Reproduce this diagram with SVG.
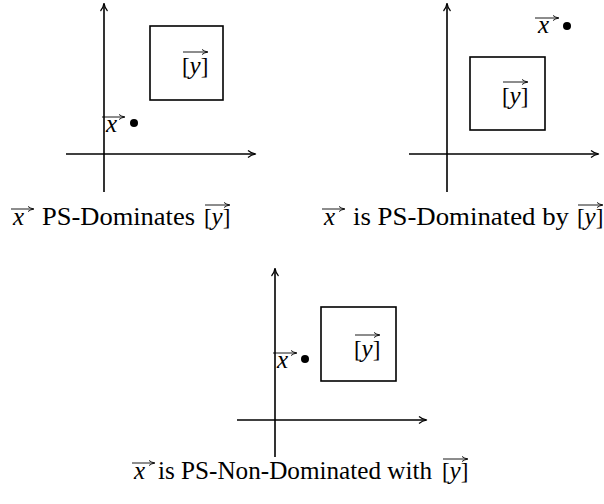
<svg xmlns="http://www.w3.org/2000/svg" width="604" height="504" viewBox="0 0 604 504">
<defs>
<marker id="ah" markerWidth="10" markerHeight="10" refX="8" refY="5" orient="auto" markerUnits="userSpaceOnUse">
<path d="M1,1.5 Q4,4.2 9,5 Q4,5.8 1,8.5" fill="none" stroke="#000" stroke-width="1.2"/>
</marker>
<marker id="vh" markerWidth="8" markerHeight="8" refX="6" refY="4" orient="auto" markerUnits="userSpaceOnUse">
<path d="M1,1.5 Q3.5,3.5 7,4 Q3.5,4.5 1,6.5" fill="none" stroke="#000" stroke-width="0.9"/>
</marker>
<style>
.ax{stroke:#000;stroke-width:1.6;fill:none;marker-end:url(#ah)}
.box{stroke:#000;stroke-width:1.6;fill:none}
.t{font-family:"Liberation Serif","Times New Roman",serif;font-size:25px;fill:#000}
.br{font-family:"Liberation Serif","Times New Roman",serif;font-size:23px;fill:#000}
.i{font-style:italic}
.va{stroke:#000;stroke-width:0.9;fill:none;marker-end:url(#vh)}
</style>
</defs>
<g id="connectors">
<line class="ax" x1="104" y1="192" x2="104" y2="4"/>
<line class="ax" x1="66" y1="154" x2="255" y2="154"/>
<line class="ax" x1="447" y1="192" x2="447" y2="4"/>
<line class="ax" x1="409" y1="154" x2="598" y2="154"/>
<line class="ax" x1="275" y1="457" x2="275" y2="269"/>
<line class="ax" x1="237" y1="420" x2="426" y2="420"/>
</g>
<g id="panel1">
<rect class="box" x="150" y="26" width="73" height="74"/>
<text class="br" x="182" y="74">[</text><text class="t i" x="189.6" y="74">y</text><text class="br" x="200.8" y="74">]</text>
<line class="va" x1="183" y1="52" x2="207" y2="52"/>
<text class="t i" x="106" y="132">x</text>
<line class="va" x1="102" y1="117" x2="124" y2="117"/>
<circle cx="134" cy="123" r="4"/>
<text class="t i" x="13" y="225">x</text>
<line class="va" x1="11" y1="209" x2="33" y2="209"/>
<text class="t" x="42" y="225" textLength="153" lengthAdjust="spacingAndGlyphs">PS-Dominates</text>
<text class="br" x="204" y="225">[</text><text class="t i" x="211.6" y="225">y</text><text class="br" x="222.8" y="225">]</text>
<line class="va" x1="205" y1="205" x2="229" y2="205"/>
</g>
<g id="panel2">
<rect class="box" x="470" y="57" width="75" height="73"/>
<text class="br" x="502" y="104">[</text><text class="t i" x="509.6" y="104">y</text><text class="br" x="520.8" y="104">]</text>
<line class="va" x1="503" y1="82" x2="527" y2="82"/>
<text class="t i" x="538" y="33">x</text>
<line class="va" x1="535" y1="18" x2="558" y2="18"/>
<circle cx="567" cy="26" r="4"/>
<text class="t i" x="324" y="225">x</text>
<line class="va" x1="322" y1="209" x2="344" y2="209"/>
<text class="t" x="353" y="225" textLength="216" lengthAdjust="spacingAndGlyphs">is PS-Dominated by</text>
<text class="br" x="577" y="225">[</text><text class="t i" x="584.6" y="225">y</text><text class="br" x="595.8" y="225">]</text>
<line class="va" x1="578" y1="205" x2="602" y2="205"/>
</g>
<g id="panel3">
<rect class="box" x="321" y="307" width="75" height="74"/>
<text class="br" x="354" y="357">[</text><text class="t i" x="361.6" y="357">y</text><text class="br" x="372.8" y="357">]</text>
<line class="va" x1="355" y1="335" x2="379" y2="335"/>
<text class="t i" x="277" y="368">x</text>
<line class="va" x1="273" y1="353" x2="296" y2="353"/>
<circle cx="305" cy="359" r="4"/>
<text class="t i" x="134" y="479">x</text>
<line class="va" x1="132" y1="463" x2="154" y2="463"/>
<text class="t" x="158" y="479" textLength="274" lengthAdjust="spacingAndGlyphs">is PS-Non-Dominated with</text>
<text class="br" x="442" y="479">[</text><text class="t i" x="449.6" y="479">y</text><text class="br" x="460.8" y="479">]</text>
<line class="va" x1="443" y1="459" x2="467" y2="459"/>
</g>
</svg>
